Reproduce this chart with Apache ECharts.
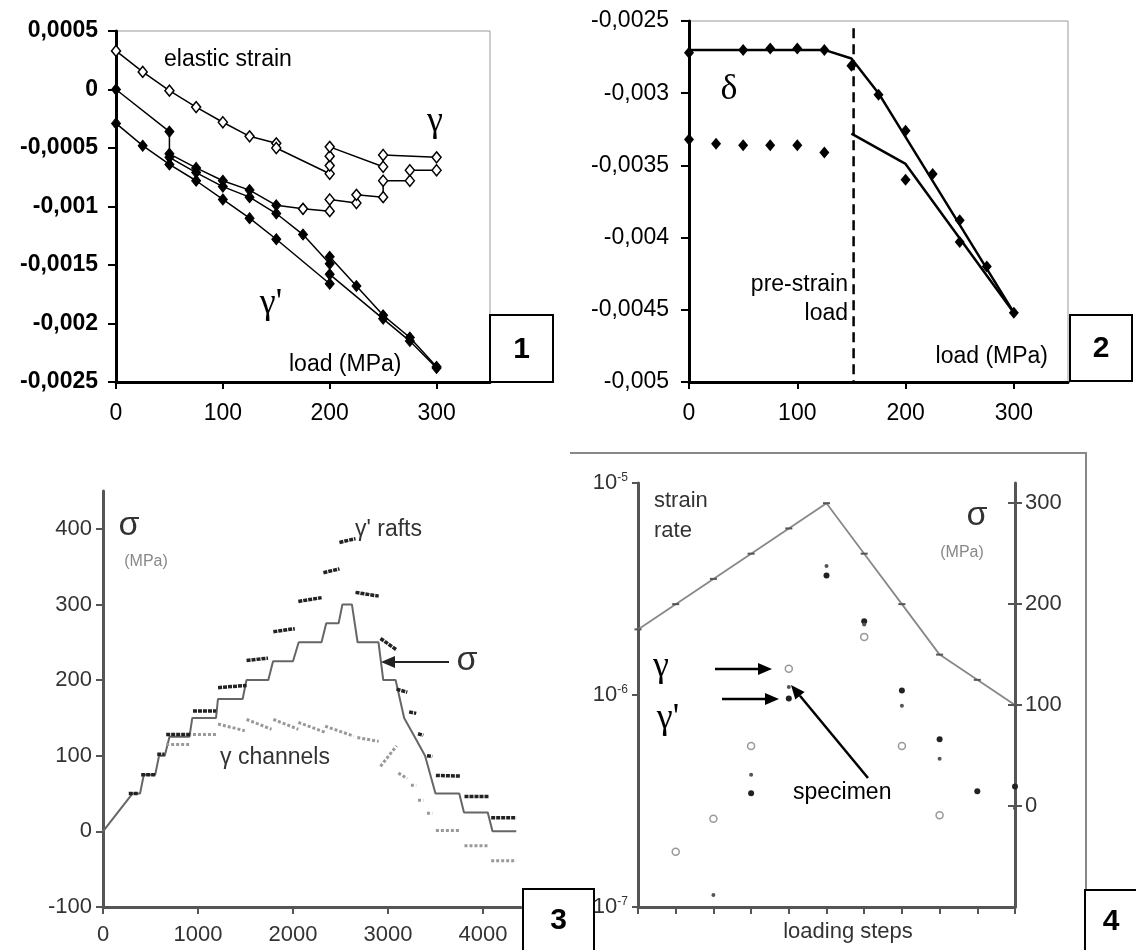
<!DOCTYPE html>
<html>
<head>
<meta charset="utf-8">
<script src="https://cdn.jsdelivr.net/npm/echarts@6/dist/echarts.min.js"></script>
<style>
  html, body { margin: 0; padding: 0; background: #fff; }
  #chart { width: 1136px; height: 950px; }
</style>
</head>
<body>
<div id="chart"></div>
<script>
// panel 1 : strains vs load
var elasticX = [0, 25, 50, 75, 100, 125, 150, 150, 200, 200, 200, 200, 250, 250, 300];
var elasticY = [0.00033, 0.00015, -0.00001, -0.00015, -0.00028, -0.0004, -0.00046, -0.0005, -0.00072, -0.00065, -0.00057, -0.00049, -0.00066, -0.00056, -0.00058];
var gammaX = [0, 50, 50, 75, 100, 125, 150, 175];
var gammaY = [0, -0.00036, -0.00055, -0.00067, -0.00078, -0.00086, -0.00099, -0.00102];
var gammaTailX = [175, 200, 200, 225, 225, 250, 250, 275, 275, 300];
var gammaTailY = [-0.00102, -0.00104, -0.00094, -0.00097, -0.0009, -0.00092, -0.00078, -0.00078, -0.00069, -0.00069];
var primeUpX = [50, 75, 100, 125, 150, 175, 200, 200, 225, 250, 275, 300];
var primeUpY = [-0.00058, -0.00071, -0.00083, -0.00092, -0.00106, -0.00124, -0.00149, -0.00143, -0.00168, -0.00193, -0.00212, -0.00237];
var primeLowX = [0, 25, 50, 75, 100, 125, 150, 200, 200, 250, 275, 300];
var primeLowY = [-0.00029, -0.00048, -0.00064, -0.00078, -0.00094, -0.0011, -0.00128, -0.00166, -0.00158, -0.00196, -0.00215, -0.00238];

// panel 2 : delta vs load
var upperLineX = [0, 125, 150, 175, 300];
var upperLineY = [-0.0027, -0.0027, -0.00276, -0.003, -0.00452];
var lowerLineX = [150, 200, 300];
var lowerLineY = [-0.00328, -0.00349, -0.00452];
var upperPtsX = [0, 50, 75, 100, 125, 150, 175, 200, 225, 250, 275, 300];
var upperPtsY = [-0.00272, -0.0027, -0.00269, -0.00269, -0.0027, -0.00281, -0.00301, -0.00326, -0.00356, -0.00388, -0.0042, -0.00452];
var lowerPtsX = [0, 25, 50, 75, 100, 125, 200, 250];
var lowerPtsY = [-0.00332, -0.00335, -0.00336, -0.00336, -0.00336, -0.00341, -0.0036, -0.00403];
var preStrainLoad = 152;

// panel 3 : stress history
var sigmaX = [0, 310, 390, 430, 550, 590, 650, 700, 910, 940, 1190, 1210, 1470, 1510, 1740, 1790, 2000, 2060, 2300, 2350, 2480, 2520, 2620, 2680, 2900, 2950, 3080, 3170, 3280, 3390, 3500, 3750, 3800, 4050, 4100, 4350];
var sigmaY = [0, 50, 50, 75, 75, 100, 100, 125, 125, 150, 150, 175, 175, 200, 200, 225, 225, 250, 250, 275, 275, 300, 300, 250, 250, 200, 200, 150, 125, 100, 50, 50, 25, 25, 0, 0];
// [x1, y1, x2, y2]
var raftSegments = [
  [271, 50, 365, 50], [402, 75, 553, 75], [571, 102, 647, 102], [665, 128, 929, 128],
  [947, 159, 1192, 159], [1211, 190, 1511, 193], [1511, 226, 1737, 229], [1793, 264, 2019, 268],
  [2056, 304, 2301, 309], [2320, 342, 2489, 347], [2489, 382, 2658, 387], [2658, 316, 2902, 311],
  [2921, 255, 3090, 240], [3090, 188, 3203, 184], [3222, 158, 3297, 156], [3316, 129, 3372, 127],
  [3410, 100, 3466, 99], [3504, 74, 3767, 73], [3805, 46, 4068, 46], [4086, 18, 4350, 18]
];
var channelSegments = [
  [665, 115, 910, 115], [947, 128, 1192, 128], [1211, 142, 1492, 133], [1511, 148, 1774, 135],
  [1793, 148, 2056, 135], [2056, 144, 2338, 131], [2338, 139, 2639, 126], [2677, 124, 2902, 119],
  [2921, 86, 3090, 113], [3109, 77, 3203, 70], [3241, 61, 3297, 61], [3316, 41, 3372, 41],
  [3410, 24, 3466, 24], [3504, 1, 3767, 1], [3805, -19, 4068, -19], [4086, -39, 4350, -39]
];

// panel 4 : strain rate per loading step
var steps = [0, 1, 2, 3, 4, 5, 6, 7, 8, 9, 10];
var sigmaSteps = [175, 200, 225, 250, 275, 300, 250, 200, 150, 125, 100];
var rateGammaX = [1, 2, 3, 4, 6, 7, 8];
var rateGammaY = [1.82e-7, 2.61e-7, 5.74e-7, 1.33e-6, 1.88e-6, 5.74e-7, 2.71e-7];
var ratePrimeX = [3, 4, 5, 6, 7, 8, 9, 10];
var ratePrimeY = [3.44e-7, 9.62e-7, 3.66e-6, 2.23e-6, 1.05e-6, 6.18e-7, 3.52e-7, 3.7e-7];
var rateSpecX = [2, 3, 4, 5, 6, 7, 8, 10];
var rateSpecY = [1.14e-7, 4.21e-7, 1.09e-6, 4.06e-6, 2.15e-6, 8.9e-7, 5.0e-7, 2.92e-7];

var FONT = 'Arial, "Liberation Sans", sans-serif';
var SERIF = '"Times New Roman", "Liberation Serif", serif';

var zip = function (xs, ys) {
  return xs.map(function (x, i) { return [x, ys[i]]; });
};
var segData = function (segs) {
  var out = [];
  segs.forEach(function (s) {
    out.push([s[0], s[1]], [s[2], s[3]], [s[2], null]);
  });
  return out;
};
var commaFmt = function (v) {
  if (Math.abs(v) < 1e-12) return '0';
  return String(+v.toFixed(4)).replace('.', ',');
};
var plainFmt = function (v) { return String(v); };

var txt = function (x, y, text, font, fill, align) {
  return {
    type: 'text', z: 50,
    style: {
      x: x, y: y, text: text, font: font, fill: fill || '#000',
      align: align || 'left', textAlign: align || 'left',
      verticalAlign: 'middle', textVerticalAlign: 'middle'
    }
  };
};
var arrow = function (x1, y1, x2, y2, color, w) {
  var dx = x2 - x1, dy = y2 - y1, len = Math.sqrt(dx * dx + dy * dy);
  var ux = dx / len, uy = dy / len, hl = 14, hw = 6;
  var bx = x2 - ux * hl, by = y2 - uy * hl;
  return [
    { type: 'line', z: 50, shape: { x1: x1, y1: y1, x2: bx, y2: by }, style: { stroke: color, lineWidth: w } },
    { type: 'polygon', z: 50, shape: { points: [[x2, y2], [bx - uy * hw, by + ux * hw], [bx + uy * hw, by - ux * hw]] }, style: { fill: color } }
  ];
};
var box = function (x, y, w, h, label) {
  return [
    { type: 'rect', z: 100, shape: { x: x, y: y, width: w, height: h }, style: { fill: '#fff', stroke: '#000', lineWidth: 2 } },
    { type: 'text', z: 101, style: { x: x + w / 2, y: y + h / 2 + 1, text: label, font: 'bold 30px ' + FONT, fill: '#000', align: 'center', textAlign: 'center', verticalAlign: 'middle', textVerticalAlign: 'middle' } }
  ];
};

var blackAxis = { onZero: false, lineStyle: { color: '#000', width: 3 } };
var grayAxis = { onZero: false, lineStyle: { color: '#555', width: 3 } };

var chart = echarts.init(document.getElementById('chart'), null, { renderer: 'canvas' });

var graphics = [].concat(
  box(490, 315, 63, 67, '1'),
  box(1070, 315, 62, 66, '2'),
  box(523, 889, 71, 62, '3'),
  box(1085, 890, 52, 61, '4'),
  [
    { type: 'polyline', z: 40, shape: { points: [[570, 453], [1086, 453], [1086, 890]] }, style: { stroke: '#888', lineWidth: 2, fill: null } },
    txt(164, 60, 'elastic strain', '23px ' + FONT),
    txt(435, 122, 'γ', '36px ' + SERIF, '#000', 'center'),
    txt(271, 304, "γ'", '36px ' + SERIF, '#000', 'center'),
    txt(289, 365, 'load (MPa)', '23px ' + FONT),
    txt(729, 90, 'δ', '36px ' + SERIF, '#000', 'center'),
    txt(848, 285, 'pre-strain', '23px ' + FONT, '#000', 'right'),
    txt(848, 314, 'load', '23px ' + FONT, '#000', 'right'),
    txt(1048, 357, 'load (MPa)', '23px ' + FONT, '#000', 'right'),
    txt(129, 526, 'σ', '34px ' + FONT, '#333', 'center'),
    txt(146, 562, '(MPa)', '16px ' + FONT, '#888', 'center'),
    txt(355, 530, "γ' rafts", '23px ' + FONT, '#333'),
    txt(220, 758, 'γ channels', '23px ' + FONT, '#333'),
    txt(467, 661, 'σ', '34px ' + FONT, '#333', 'center'),
    txt(654, 501, 'strain', '22px ' + FONT, '#333'),
    txt(654, 531, 'rate', '22px ' + FONT, '#333'),
    txt(977, 516, 'σ', '34px ' + FONT, '#333', 'center'),
    txt(962, 553, '(MPa)', '16px ' + FONT, '#888', 'center'),
    txt(661, 667, 'γ', '36px ' + SERIF, '#000', 'center'),
    txt(668, 719, "γ'", '36px ' + SERIF, '#000', 'center'),
    txt(793, 793, 'specimen', '23px ' + FONT),
    txt(848, 932, 'loading steps', '22px ' + FONT, '#333', 'center')
  ],
  arrow(449, 662, 381, 662, '#222', 2),
  arrow(715, 669, 772, 669, '#000', 2.5),
  arrow(722, 699, 779, 699, '#000', 2.5),
  arrow(868, 778, 791, 685, '#000', 2.5)
);

var openDiamond = { color: '#fff', borderColor: '#000', borderWidth: 1.5, opacity: 1 };
var fullDiamond = { color: '#000', borderColor: '#000', borderWidth: 1, opacity: 1 };
var p1Line = function (xs, ys, style) {
  return {
    type: 'line', xAxisIndex: 0, yAxisIndex: 0, data: zip(xs, ys),
    symbol: 'diamond', symbolSize: [9, 11], showAllSymbol: true,
    lineStyle: { color: '#000', width: 1.5 }, itemStyle: style
  };
};

option = {
  animation: false,
  textStyle: { fontFamily: FONT },
  grid: [
    { left: 116, top: 31, width: 374, height: 351, show: true, borderColor: '#999', borderWidth: 1 },
    { left: 689, top: 21, width: 379, height: 361, show: true, borderColor: '#999', borderWidth: 1 },
    { left: 103, top: 491, width: 418, height: 416 },
    { left: 638, top: 483, width: 377, height: 424 }
  ],
  xAxis: [
    {
      gridIndex: 0, type: 'value', min: 0, max: 350, interval: 100,
      axisLine: blackAxis, splitLine: { show: false },
      axisTick: { length: 7, lineStyle: { color: '#000', width: 2 }, customValues: [0, 100, 200, 300] },
      axisLabel: { fontSize: 23, color: '#000', margin: 20, customValues: [0, 100, 200, 300] }
    },
    {
      gridIndex: 1, type: 'value', min: 0, max: 350, interval: 100,
      axisLine: blackAxis, splitLine: { show: false },
      axisTick: { length: 7, lineStyle: { color: '#000', width: 2 }, customValues: [0, 100, 200, 300] },
      axisLabel: { fontSize: 23, color: '#000', margin: 20, customValues: [0, 100, 200, 300] }
    },
    {
      gridIndex: 2, type: 'value', min: 0, max: 4400, interval: 1000,
      axisLine: grayAxis, splitLine: { show: false },
      axisTick: { length: 7, lineStyle: { color: '#555', width: 2 }, customValues: [0, 1000, 2000, 3000, 4000] },
      axisLabel: { fontSize: 22, color: '#333', margin: 17, formatter: plainFmt, customValues: [0, 1000, 2000, 3000, 4000] }
    },
    {
      gridIndex: 3, type: 'value', min: 0, max: 10, interval: 1,
      axisLine: grayAxis, splitLine: { show: false },
      axisTick: { length: 7, lineStyle: { color: '#555', width: 2 } },
      axisLabel: { show: false }
    }
  ],
  yAxis: [
    {
      gridIndex: 0, type: 'value', min: -0.0025, max: 0.0005, interval: 0.0005,
      axisLine: blackAxis, splitLine: { show: false },
      axisTick: { length: 8, lineStyle: { color: '#000', width: 2 } },
      axisLabel: { fontSize: 23, fontWeight: 'bold', color: '#000', margin: 18, formatter: commaFmt }
    },
    {
      gridIndex: 1, type: 'value', min: -0.005, max: -0.0025, interval: 0.0005,
      axisLine: blackAxis, splitLine: { show: false },
      axisTick: { length: 8, lineStyle: { color: '#000', width: 2 } },
      axisLabel: { fontSize: 23, color: '#000', margin: 20, formatter: commaFmt }
    },
    {
      gridIndex: 2, type: 'value', min: -100, max: 450, interval: 100,
      axisLine: grayAxis, splitLine: { show: false },
      axisTick: { length: 7, lineStyle: { color: '#555', width: 2 }, customValues: [-100, 0, 100, 200, 300, 400] },
      axisLabel: { fontSize: 22, color: '#333', margin: 11, customValues: [-100, 0, 100, 200, 300, 400] }
    },
    {
      gridIndex: 3, type: 'log', logBase: 10, min: 1e-7, max: 1e-5,
      axisLine: grayAxis, splitLine: { show: false }, minorTick: { show: false },
      axisTick: { length: 6, lineStyle: { color: '#555', width: 2 } },
      axisLabel: {
        color: '#333', margin: 10,
        formatter: function (v) { return '{b|10}{s|' + Math.round(Math.log10(v)) + '}'; },
        rich: {
          b: { fontSize: 22, color: '#333', fontFamily: FONT, verticalAlign: 'bottom' },
          s: { fontSize: 12, color: '#333', fontFamily: FONT, verticalAlign: 'top' }
        }
      }
    },
    {
      gridIndex: 3, type: 'value', position: 'right', min: -100, max: 320, interval: 100,
      axisLine: grayAxis, splitLine: { show: false },
      axisTick: { length: 7, lineStyle: { color: '#555', width: 2 }, customValues: [0, 100, 200, 300] },
      axisLabel: { fontSize: 22, color: '#333', margin: 10, customValues: [0, 100, 200, 300] }
    },
    {
      gridIndex: 3, type: 'value', position: 'right', min: -100, max: 320, interval: 100,
      axisLine: { show: false, onZero: false }, splitLine: { show: false },
      axisTick: { inside: true, length: 7, lineStyle: { color: '#555', width: 2 }, customValues: [0, 100, 200, 300] },
      axisLabel: { show: false }
    }
  ],
  graphic: graphics,
  series: [
    // panel 1
    p1Line(elasticX, elasticY, openDiamond),
    p1Line(gammaX, gammaY, fullDiamond),
    p1Line(gammaTailX, gammaTailY, openDiamond),
    p1Line(primeUpX, primeUpY, fullDiamond),
    p1Line(primeLowX, primeLowY, fullDiamond),
    // panel 2
    {
      type: 'line', xAxisIndex: 1, yAxisIndex: 1, data: zip(upperLineX, upperLineY),
      symbol: 'none', lineStyle: { color: '#000', width: 2.5 }
    },
    {
      type: 'line', xAxisIndex: 1, yAxisIndex: 1, data: zip(lowerLineX, lowerLineY),
      symbol: 'none', lineStyle: { color: '#000', width: 2.5 }
    },
    {
      type: 'scatter', xAxisIndex: 1, yAxisIndex: 1, data: zip(upperPtsX, upperPtsY),
      symbol: 'diamond', symbolSize: [10, 12], itemStyle: { color: '#000', opacity: 1 }
    },
    {
      type: 'scatter', xAxisIndex: 1, yAxisIndex: 1, data: zip(lowerPtsX, lowerPtsY),
      symbol: 'diamond', symbolSize: [10, 12], itemStyle: { color: '#000', opacity: 1 }
    },
    {
      type: 'line', xAxisIndex: 1, yAxisIndex: 1,
      data: [[preStrainLoad, -0.00255], [preStrainLoad, -0.005]],
      symbol: 'none', lineStyle: { color: '#000', width: 2.5, type: [10, 6] }
    },
    // panel 3
    {
      type: 'line', xAxisIndex: 2, yAxisIndex: 2, data: zip(sigmaX, sigmaY),
      symbol: 'none', lineStyle: { color: '#666', width: 2 }
    },
    {
      type: 'line', xAxisIndex: 2, yAxisIndex: 2, data: segData(raftSegments),
      symbol: 'none', connectNulls: false, lineStyle: { color: '#222', width: 3.5, type: [4, 1] }
    },
    {
      type: 'line', xAxisIndex: 2, yAxisIndex: 2, data: segData(channelSegments),
      symbol: 'none', connectNulls: false, lineStyle: { color: '#999', width: 3, type: [3, 2] }
    },
    // panel 4
    {
      type: 'line', xAxisIndex: 3, yAxisIndex: 4, data: zip(steps, sigmaSteps),
      symbol: 'rect', symbolSize: [7, 2], showAllSymbol: true,
      itemStyle: { color: '#555' }, lineStyle: { color: '#888', width: 1.8 }
    },
    {
      type: 'scatter', xAxisIndex: 3, yAxisIndex: 3, data: zip(rateGammaX, rateGammaY),
      symbol: 'circle', symbolSize: 7, itemStyle: { color: '#fff', borderColor: '#999', borderWidth: 1.5, opacity: 1 }
    },
    {
      type: 'scatter', xAxisIndex: 3, yAxisIndex: 3, data: zip(ratePrimeX, ratePrimeY),
      symbol: 'circle', symbolSize: 6, itemStyle: { color: '#222', opacity: 1 }
    },
    {
      type: 'scatter', xAxisIndex: 3, yAxisIndex: 3, data: zip(rateSpecX, rateSpecY),
      symbol: 'circle', symbolSize: 4, itemStyle: { color: '#555', opacity: 1 }
    }
  ]
};

chart.setOption(option);
</script>
</body>
</html>
